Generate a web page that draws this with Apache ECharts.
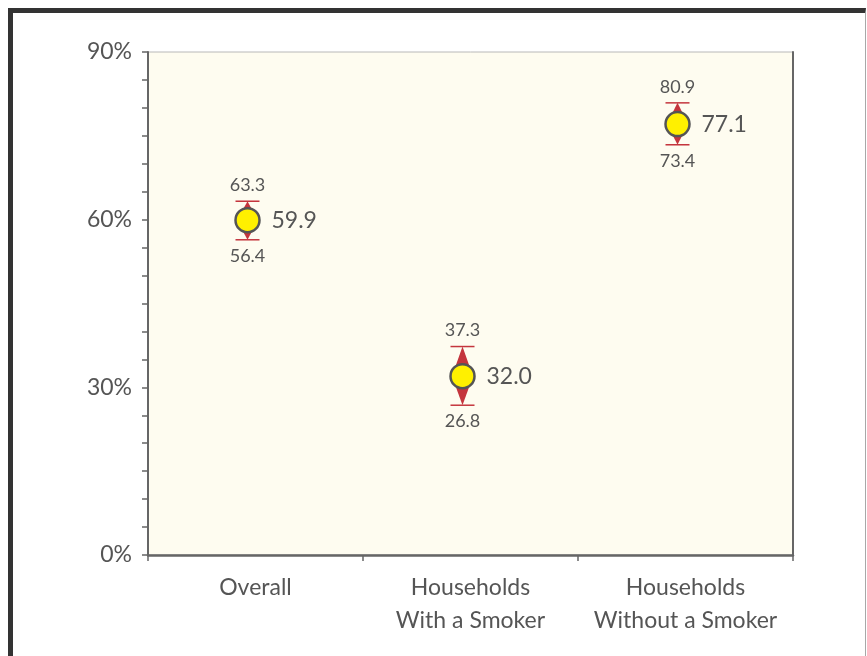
<!DOCTYPE html>
<html>
<head>
<meta charset="utf-8">
<script src="https://cdn.jsdelivr.net/npm/echarts@6/dist/echarts.min.js"></script>
<style>
  html, body { margin: 0; padding: 0; background: #ffffff; }
  #chart { position: absolute; left: 0; top: 0; width: 867px; height: 656px; }
  #frame {
    position: absolute; left: 8px; top: 8px; width: 852px; height: 660px;
    border-top: 5px solid #333333; border-left: 5px solid #333333;
    border-right: 1px solid #a8a8a8; pointer-events: none; z-index: 5;
  }
</style>
</head>
<body>
<div id="chart"></div>
<div id="frame"></div>
<script>
// Prevalence estimates with 95% confidence bounds, by household group
const categories = ['Overall', 'Households\nWith a Smoker', 'Households\nWithout a Smoker'];
const estimates = [59.9, 32.0, 77.1];
const lowerBounds = [56.4, 26.8, 73.4];
const upperBounds = [63.3, 37.3, 80.9];
const yTickLabels = [0, 30, 60, 90];

const FONT = 'Lato, "Open Sans", sans-serif';
const TEXT_COLOR = '#555555';
const RED = '#c4353d';

const seriesData = categories.map((c, i) => [i, estimates[i], lowerBounds[i], upperBounds[i]]);

function renderInterval(params, api) {
  const idx = api.value(0);
  const est = api.value(1), lo = api.value(2), hi = api.value(3);
  const pEst = api.coord([idx, est]);
  const pLo = api.coord([idx, lo]);
  const pHi = api.coord([idx, hi]);
  const x = pEst[0] - 8;
  const yE = pEst[1], yL = pLo[1], yH = pHi[1];
  const hw = 10.5, cap = 12;
  return {
    type: 'group',
    children: [
      { type: 'polygon', shape: { points: [[x, yH], [x + hw, yE], [x, yL], [x - hw, yE]] },
        style: { fill: RED } },
      { type: 'line', shape: { x1: x - cap, y1: yH, x2: x + cap, y2: yH },
        style: { stroke: RED, lineWidth: 1.5 } },
      { type: 'line', shape: { x1: x - cap, y1: yL, x2: x + cap, y2: yL },
        style: { stroke: RED, lineWidth: 1.5 } },
      { type: 'circle', shape: { cx: x, cy: yE, r: 12 },
        style: { fill: '#fff000', stroke: '#555555', lineWidth: 2.5 } },
      { type: 'text', x: x, y: yH - 16,
        style: { text: hi.toFixed(1), fill: TEXT_COLOR, font: '18px ' + FONT, align: 'center', verticalAlign: 'middle' } },
      { type: 'text', x: x, y: yL + 16,
        style: { text: lo.toFixed(1), fill: TEXT_COLOR, font: '18px ' + FONT, align: 'center', verticalAlign: 'middle' } },
      { type: 'text', x: x + 24, y: yE,
        style: { text: est.toFixed(1), fill: TEXT_COLOR, font: '23px ' + FONT, align: 'left', verticalAlign: 'middle' } }
    ]
  };
}

const chart = echarts.init(document.getElementById('chart'), null, { renderer: 'canvas' });
chart.setOption({
  backgroundColor: '#ffffff',
  animation: false,
  grid: {
    left: 148, top: 52, right: 74, bottom: 101,
    show: true, backgroundColor: '#fefcf0', borderColor: '#b8b8b8', borderWidth: 1
  },
  xAxis: {
    type: 'category',
    data: categories,
    boundaryGap: true,
    axisLine: { lineStyle: { color: '#666666', width: 2.5 } },
    axisTick: { show: true, interval: 0, inside: false, length: 6, lineStyle: { color: '#666666', width: 1.5 } },
    axisLabel: { interval: 0, hideOverlap: false, color: TEXT_COLOR, fontFamily: FONT, fontSize: 23, lineHeight: 33, margin: 16 },
    splitLine: { show: false }
  },
  yAxis: [{
    type: 'value',
    min: 0, max: 90, interval: 5,
    axisLine: { show: true, lineStyle: { color: '#666666', width: 2 } },
    axisTick: { show: true, inside: false, length: 6, lineStyle: { color: '#666666', width: 1.5 } },
    axisLabel: {
      color: TEXT_COLOR, fontFamily: FONT, fontSize: 23, margin: 16,
      formatter: v => yTickLabels.indexOf(v) >= 0 ? v + '%' : ''
    },
    splitLine: { show: false }
  }, {
    type: 'value',
    position: 'right',
    min: 0, max: 90,
    axisLine: { show: true, lineStyle: { color: '#666666', width: 2 } },
    axisTick: { show: false },
    axisLabel: { show: false },
    splitLine: { show: false }
  }],
  series: [{
    type: 'custom',
    renderItem: renderInterval,
    data: seriesData,
    encode: { x: 0, y: [1, 2, 3] },
    clip: false,
    z: 10
  }]
});
</script>
</body>
</html>
